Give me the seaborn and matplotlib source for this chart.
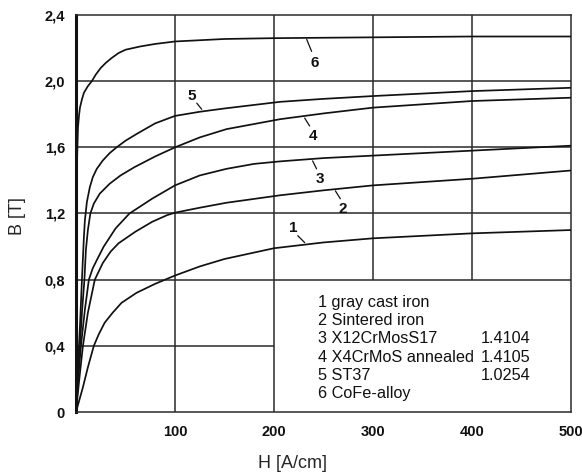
import matplotlib
matplotlib.use("Agg")
import matplotlib.pyplot as plt
import seaborn as sns
import pandas as pd

# ---- data ----
H1 = [0, 7, 12, 18, 23, 29, 37, 46, 61, 80, 90, 100, 125, 150, 200, 250, 300, 400, 500]
B1 = [0, 0.15, 0.27, 0.40, 0.47, 0.54, 0.60, 0.66, 0.72, 0.775, 0.80, 0.825, 0.88, 0.925, 0.99, 1.025, 1.05, 1.08, 1.10]

H2 = [0, 3, 7, 12, 19, 27, 35, 43, 60, 77, 92, 100, 125, 152, 206, 250, 300, 400, 500]
B2 = [0, 0.18, 0.40, 0.60, 0.80, 0.90, 0.97, 1.02, 1.09, 1.15, 1.19, 1.205, 1.235, 1.265, 1.31, 1.34, 1.37, 1.41, 1.46]

H3 = [0, 2, 5, 9, 13, 17, 22, 28, 40, 54, 77, 100, 125, 152, 180, 206, 250, 300, 400, 500]
B3 = [0, 0.18, 0.40, 0.62, 0.80, 0.87, 0.93, 1.00, 1.11, 1.20, 1.29, 1.37, 1.43, 1.47, 1.50, 1.515, 1.535, 1.55, 1.58, 1.61]

H4 = [0, 1.5, 4, 6, 8.5, 10, 12, 14.5, 18, 24, 34, 45, 59, 80, 100, 125, 152, 206, 250, 300, 400, 500]
B4 = [0, 0.18, 0.40, 0.60, 0.80, 0.98, 1.10, 1.20, 1.26, 1.32, 1.38, 1.43, 1.48, 1.545, 1.60, 1.66, 1.71, 1.77, 1.805, 1.84, 1.88, 1.90]

H5 = [0, 1, 2, 3, 4, 5, 6, 7, 8, 9, 11, 14, 17, 21, 27, 34, 41, 50, 61, 80, 100, 125, 150, 206, 250, 300, 400, 500]
B5 = [0, 0.18, 0.30, 0.40, 0.52, 0.66, 0.80, 0.93, 1.06, 1.16, 1.27, 1.36, 1.42, 1.47, 1.52, 1.565, 1.60, 1.64, 1.68, 1.745, 1.79, 1.815, 1.835, 1.875, 1.893, 1.91, 1.94, 1.96]

H6 = [0, 0.3, 0.7, 1.2, 2, 3, 4, 6, 8, 12, 16, 20, 25, 30, 36, 43, 50, 65, 80, 100, 150, 200, 300, 400, 500]
B6 = [0, 0.6, 1.2, 1.55, 1.72, 1.79, 1.84, 1.89, 1.93, 1.97, 2.0, 2.04, 2.08, 2.11, 2.14, 2.17, 2.19, 2.21, 2.225, 2.24, 2.255, 2.26, 2.265, 2.27, 2.27]

curve_ids = ["1", "2", "3", "4", "5", "6"]
legend_names = ["1 gray cast iron", "2 Sintered iron", "3 X12CrMosS17",
                "4 X4CrMoS annealed", "5 ST37", "6 CoFe-alloy"]
legend_codes = ["", "", "1.4104", "1.4105", "1.0254", ""]

x_ticks = [100, 200, 300, 400, 500]
y_ticks = [0, 0.4, 0.8, 1.2, 1.6, 2.0, 2.4]
y_tick_labels = ["0", "0,4", "0,8", "1,2", "1,6", "2,0", "2,4"]

# label positions (text) and leader line ends, in data units
label_pos = {"1": (219, 1.11), "2": (269, 1.23), "3": (246, 1.41),
             "4": (239, 1.67), "5": (117, 1.91), "6": (241, 2.11)}
leader = {"1": ((224, 1.066), (231, 1.024)), "2": ((262, 1.337), (267, 1.289)),
          "3": ((239, 1.518), (243, 1.47)), "4": ((231, 1.777), (236, 1.729)),
          "5": ((122, 1.867), (127, 1.83)), "6": ((233, 2.253), (238, 2.18))}

# ---- build table ----
Hs = [H1, H2, H3, H4, H5, H6]
Bs = [B1, B2, B3, B4, B5, B6]
rows = []
for cid, hh, bb in zip(curve_ids, Hs, Bs):
    for h, b in zip(hh, bb):
        rows.append({"curve": cid, "H": h, "B": b})
df = pd.DataFrame(rows)

sns.set_style("white")
plt.rcParams["font.family"] = ["Liberation Sans", "DejaVu Sans"]

fig = plt.figure(figsize=(5.82, 4.75), dpi=100)
ax = fig.add_axes([76 / 582, 1 - 412 / 475, 495 / 582, 397 / 475])

gc = "#2a2a2a"
glw = 1.1
# grid segments
ax.vlines([100, 200], 0, 2.4, color=gc, lw=glw, zorder=1)
ax.vlines([300, 400], 0.8, 2.4, color=gc, lw=glw, zorder=1)
ax.hlines([0.8, 1.2, 1.6, 2.0], 0, 500, color=gc, lw=glw, zorder=1)
ax.hlines([0.4], 0, 200, color=gc, lw=glw, zorder=1)

sns.lineplot(data=df, x="H", y="B", units="curve", estimator=None, sort=False,
             color="#111111", lw=1.25, ax=ax, legend=False, zorder=3)

for cid in curve_ids:
    (x0, y0), (x1, y1) = leader[cid]
    ax.plot([x0, x1], [y0, y1], color="#111111", lw=0.9, zorder=3)
    tx, ty = label_pos[cid]
    ax.text(tx, ty, cid, fontsize=11, fontweight="bold", ha="center", va="center",
            color="#111111", zorder=4)

ly = [0.663, 0.554, 0.446, 0.331, 0.223, 0.114]
for name, code, yy in zip(legend_names, legend_codes, ly):
    ax.text(244.4, yy, name, fontsize=11.7, ha="left", va="center", color="#111111")
    if code:
        ax.text(458.6, yy, code, fontsize=11.7, ha="right", va="center", color="#111111")

ax.set_xlim(0, 500)
ax.set_ylim(0, 2.4)
ax.set_xticks(x_ticks)
ax.set_xticklabels([str(t) for t in x_ticks], fontweight="bold", fontsize=10.5)
ax.set_yticks(y_ticks)
ax.set_yticklabels(y_tick_labels, fontweight="bold", fontsize=10.5)
ax.tick_params(axis="x", direction="in", length=4, width=1, pad=9, colors="#111111")
ax.tick_params(axis="y", length=0, pad=8, colors="#111111")

for s in ["top", "right", "bottom"]:
    ax.spines[s].set_linewidth(1.1)
    ax.spines[s].set_color(gc)
ax.spines["left"].set_linewidth(2.2)
ax.spines["left"].set_color("#111111")

ax.set_xlabel("H [A/cm]", fontsize=13, va="center")
ax.set_ylabel("B [T]", fontsize=13, va="center")
ax.xaxis.set_label_coords((292 - 76) / 495, (412 - 463) / 397)
ax.yaxis.set_label_coords((17.5 - 76) / 495, (412 - 216) / 397)

fig.savefig("out.png", dpi=100)
